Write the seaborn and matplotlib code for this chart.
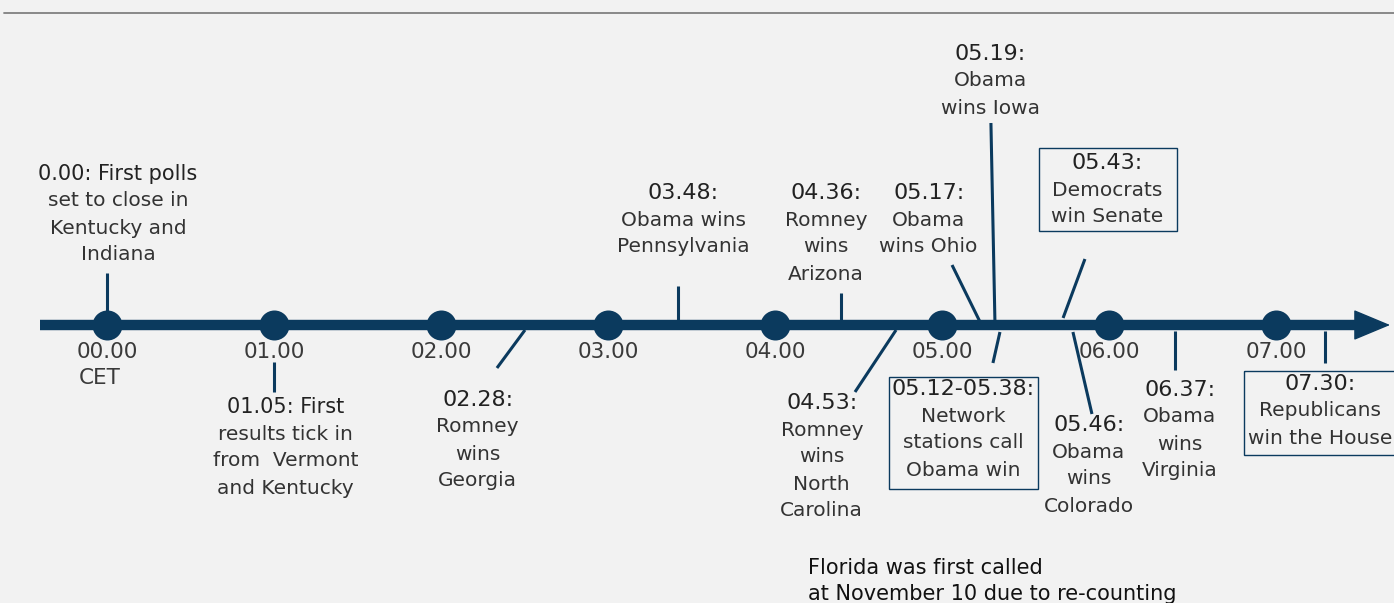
import matplotlib
matplotlib.use('Agg')
import matplotlib.pyplot as plt
from matplotlib.patches import Rectangle
import seaborn as sns
import pandas as pd

# hour marks on the timeline
hours = [0, 1, 2, 3, 4, 5, 6, 7]
hour_labels = ['00.00', '01.00', '02.00', '03.00', '04.00', '05.00', '06.00', '07.00']

# events: header, text lines
event_heads = ['0.00: First polls', '01.05: First', '02.28:', '03.48:', '04.36:', '05.17:',
               '05.19:', '05.43:', '04.53:', '05.12-05.38:', '05.46:', '06.37:', '07.30:']
event_lines = [
    ['set to close in', 'Kentucky and', 'Indiana'],
    ['results tick in', 'from  Vermont', 'and Kentucky'],
    ['Romney', 'wins', 'Georgia'],
    ['Obama wins', 'Pennsylvania'],
    ['Romney', 'wins', 'Arizona'],
    ['Obama', 'wins Ohio'],
    ['Obama', 'wins Iowa'],
    ['Democrats', 'win Senate'],
    ['Romney', 'wins', 'North', 'Carolina'],
    ['Network', 'stations call', 'Obama win'],
    ['Obama', 'wins', 'Colorado'],
    ['Obama', 'wins', 'Virginia'],
    ['Republicans', 'win the House'],
]
# where each event tick sits on the line (hours, as drawn) and where it ends
tick_base = [0.0, 1.0, 2.503, 3.419, 4.395, 5.228, 5.317, 5.725, 4.725, 5.347, 5.784, 6.395, 7.293]
tick_tip = [0.0, 1.0, 2.335, 3.419, 4.395, 5.06, 5.293, 5.856, 4.479, 5.305, 5.898, 6.395, 7.293]
footnote = ['Florida was first called', 'at November 10 due to re-counting']

# ---- layout (pixel-like y, x in hours) ----
LINE_Y = 325
tick_y0 = [325, 362, 330, 325, 325, 322, 322, 318, 330, 332, 332, 331, 331]
tick_y1 = [273, 392, 368, 286, 293, 265, 123, 259, 392, 363, 414, 370, 363]
label_x = [0.066, 1.07, 2.22, 3.45, 4.305, 4.92, 5.29, 5.99, 4.28, 5.126, 5.88, 6.425, 7.264]
label_y = [174, 407, 400, 193, 193, 193, 54, 163, 403, 389, 425, 390, 384]
boxes = {7: (5.581, 148, 6.407, 231), 9: (4.683, 377, 5.575, 489), 12: (6.808, 371, 7.74, 455)}

navy = '#0b3a5e'
bg = '#f2f2f2'
sns.set_theme(style='white', rc={'axes.facecolor': bg, 'figure.facecolor': bg})
plt.rcParams['font.family'] = ['DejaVu Sans']

fig = plt.figure(figsize=(13.94, 6.03), dpi=100)
ax = fig.add_axes([0, 0, 1, 1])
ax.set_xlim(-107 / 167, (1394 - 107) / 167)
ax.set_ylim(603, 0)
ax.axis('off')

# top rule
ax.plot([-0.617, 8], [13, 13], color='#808080', lw=1.3)

# main line + arrow head
ax.plot([-0.40, 7.5], [LINE_Y, LINE_Y], color=navy, lw=7.5, solid_capstyle='butt', zorder=2)
ax.annotate('', xy=(7.683, LINE_Y), xytext=(7.40, LINE_Y),
            arrowprops=dict(arrowstyle='-|>,head_length=1.2,head_width=0.5', lw=1,
                            color=navy, mutation_scale=20, shrinkA=0, shrinkB=0))

dots = pd.DataFrame({'hour': hours, 'y': [LINE_Y] * len(hours)})
sns.scatterplot(data=dots, x='hour', y='y', s=400, color=navy, edgecolor=navy, ax=ax, zorder=5,
                legend=False)
for h, lab in zip(hours, hour_labels):
    ax.text(h, 352, lab, ha='center', va='center', fontsize=15.5, color='#3a3a3a')
ax.text(-0.168, 378, 'CET', ha='left', va='center', fontsize=15.5, color='#3a3a3a')

for i, head in enumerate(event_heads):
    ax.plot([tick_base[i], tick_tip[i]], [tick_y0[i], tick_y1[i]], color=navy, lw=2.2,
            solid_capstyle='butt', zorder=3)
    hs = 15 if i < 2 else 16
    ax.text(label_x[i], label_y[i], head, ha='center', va='center', fontsize=hs, color='#222222')
    for j, line in enumerate(event_lines[i]):
        ax.text(label_x[i], label_y[i] + 27 * (j + 1), line, ha='center', va='center',
                fontsize=14.5, color='#333333')

for i, (x0, y0, x1, y1) in boxes.items():
    ax.add_patch(Rectangle((x0, y0), x1 - x0, y1 - y0, fill=False, edgecolor=navy, lw=1.0))

for j, line in enumerate(footnote):
    ax.text(4.198, 568 + 26 * j, line, ha='left', va='center', fontsize=15,
            color='#111111', fontweight='medium')

fig.savefig('out.png', dpi=100, facecolor=bg)
